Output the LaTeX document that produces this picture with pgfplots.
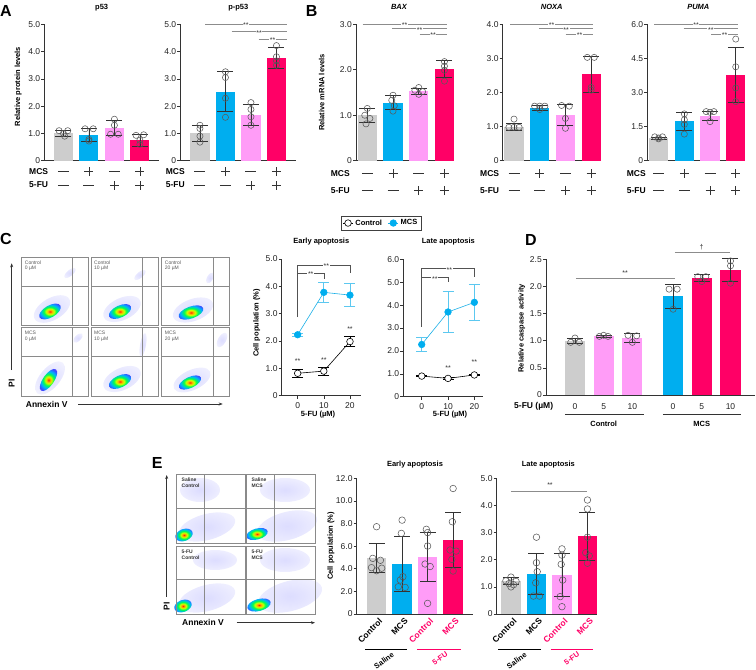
\documentclass[border=0pt]{standalone}
\usepackage{pgfplots}
\pgfplotsset{compat=1.18}
\usepackage{fontspec}
\setmainfont{Liberation Sans}
\usetikzlibrary{arrows.meta}

\definecolor{cgray}{HTML}{CDCDCD}
\definecolor{cblue}{HTML}{00AEEF}
\definecolor{cpink}{HTML}{FF9CF7}
\definecolor{cred}{HTML}{FF0066}
\definecolor{axc}{HTML}{333333}
\definecolor{tkc}{HTML}{222222}
\definecolor{ptc}{HTML}{5A5A5A}
\definecolor{brc}{HTML}{8C8C8C}
\definecolor{mcsline}{HTML}{1AAFE6}
\definecolor{mcserr}{HTML}{5CC8F0}
\definecolor{flowc}{HTML}{8A8A8A}

\newcommand{\tk}{\fontsize{8.5}{10}\selectfont}
\newcommand{\lb}{\bfseries\fontsize{7.5}{9}\selectfont}
\newcommand{\rl}{\bfseries\fontsize{8.5}{10}\selectfont}
\newcommand{\sig}{\fontsize{7}{8}\selectfont}
\newcommand{\pan}{\bfseries\fontsize{16}{18}\selectfont}
\newcommand{\fl}{\fontsize{5}{5.8}\selectfont}

\pgfdeclareradialshading{heat}{\pgfpointorigin}{color(0bp)=(red!85!yellow); color(4bp)=(orange!70!yellow); color(8bp)=(yellow!80!green); color(13bp)=(green!70!cyan); color(20bp)=(cyan!70!blue); color(28bp)=(blue!75); color(38bp)=(blue!35); color(50bp)=(white)}
\pgfdeclareradialshading{cloud}{\pgfpointorigin}{color(0bp)=(blue!30); color(25bp)=(blue!15); color(50bp)=(white)}

\newcommand{\heat}[5]{\shade[shading=heat, rotate around={#3:(#1,-#2)}] (#1,-#2) ellipse [x radius=#4, y radius=#5];}
\newcommand{\cloud}[5]{\shade[shading=cloud, opacity=0.45, rotate around={#3:(#1,-#2)}] (#1,-#2) ellipse [x radius=#4, y radius=#5];}

\pgfplotsset{
 base/.style={scale only axis, anchor=south west, clip=false,
   axis lines*=left, axis line style={axc, line width=0.7pt, -},
   ytick pos=left, xtick pos=bottom, tick align=outside, major tick length=3pt,
   tick style={axc, line width=0.6pt},
   ticklabel style={font=\tk, text=tkc},
   yticklabel style={inner sep=1pt},
   ymin=0},
 barax/.style={base, xtick=\empty, bar width=0.75},
 mybar/.style={ybar, bar shift=0pt, draw=none, fill=#1,
   error bars/.cd, y dir=both, y explicit,
   error bar style={axc, line width=0.6pt},
   error mark options={rotate=90, mark size=8pt, line width=0.6pt, axc}},
 pts/.style={only marks, mark=o, mark size=3.1pt, mark options={ptc, line width=0.55pt}},
 ctrl/.style={black, line width=0.6pt, mark=*, mark size=3.3pt, mark options={fill=white, draw=black, line width=0.6pt},
   error bars/.cd, y dir=both, y explicit,
   error bar style={black, line width=0.6pt},
   error mark options={rotate=90, mark size=5.5pt, line width=0.6pt, black}},
 mcs/.style={mcsline, line width=0.6pt, mark=*, mark size=3.3pt, mark options={fill=cblue, draw=cblue},
   error bars/.cd, y dir=both, y explicit,
   error bar style={mcserr, line width=0.8pt},
   error mark options={rotate=90, mark size=5.5pt, line width=0.8pt, mcserr}},
}

\newcommand{\sgnP}[2]{\draw[axc, line width=0.6pt] ([yshift=#2]axis cs:#1,0) ++(-4.5pt,0pt) -- ++(9pt,0pt) ([yshift=#2]axis cs:#1,0) ++(0pt,-4.5pt) -- ++(0pt,9pt);}
\newcommand{\sgnM}[2]{\draw[axc, line width=0.6pt] ([yshift=#2]axis cs:#1,0) ++(-5.5pt,0pt) -- ++(11pt,0pt);}
\newcommand{\rowsAB}[2]{\sgnM{0}{#1}\sgnP{1}{#1}\sgnM{2}{#1}\sgnP{3}{#1}\sgnM{0}{#2}\sgnM{1}{#2}\sgnP{2}{#2}\sgnP{3}{#2}}
\newcommand{\brk}[4]{\draw[brc, line width=0.6pt] (axis cs:#1,#4) -- (axis cs:#2,#4); \node[fill=white, inner sep=0.6pt, font=\sig, text=axc, yshift=-1.2pt] at (axis cs:#3,#4) {**};}
\newcommand{\stars}[2]{\node[font=\sig, text=axc] at (axis cs:#1,#2) {**};}
\newcommand{\dlab}[2]{\node[font=\tk, text=tkc] at ([yshift=-11.7pt]axis cs:#1,0) {#2};}
\newcommand{\elab}[3]{\node[font=\bfseries\fontsize{8.5}{10}\selectfont, text=#3, rotate=45, anchor=east, inner sep=1pt] at ([xshift=5pt,yshift=-5pt]axis cs:#1,0) {#2};}

\begin{document}
\begin{tikzpicture}[x=1pt,y=1pt]
\useasboundingbox (0,0) rectangle (756,-670);

% ---------------- panel letters ----------------
\node[font=\pan, anchor=north west, inner sep=0] at (0,-5) {A};
\node[font=\pan, anchor=north west, inner sep=0] at (305.7,-5) {B};
\node[font=\pan, anchor=north west, inner sep=0] at (0,-233.5) {C};
\node[font=\pan, anchor=north west, inner sep=0] at (525,-234.3) {D};
\node[font=\pan, anchor=north west, inner sep=0] at (151.7,-457) {E};

% ---------------- titles and labels A/B ----------------
\node[font=\lb] at (101.7,-7.3) {p53};
\node[font=\lb] at (238.3,-7.3) {p-p53};
\node[font=\lb\itshape] at (399,-7.3) {BAX};
\node[font=\lb\itshape] at (551.7,-7.3) {NOXA};
\node[font=\lb\itshape] at (698.3,-7.3) {PUMA};
\node[font=\lb, rotate=90] at (18.3,-86.7) {Relative protein levels};
\node[font=\lb, rotate=90] at (321.7,-92.5) {Relative mRNA levels};
\foreach \xr in {48.3,185} {
  \node[font=\rl, anchor=east, inner sep=0] at (\xr,-171.7) {MCS};
  \node[font=\rl, anchor=east, inner sep=0] at (\xr,-185) {5-FU};
}
\foreach \xr in {350,499.3,646} {
  \node[font=\rl, anchor=east, inner sep=0] at (\xr,-173.3) {MCS};
  \node[font=\rl, anchor=east, inner sep=0] at (\xr,-190.7) {5-FU};
}

% ---------------- A: p53 ----------------
\begin{axis}[barax, at={(44.3pt,-160.7pt)}, width=114.7pt, height=136.4pt, xmin=-0.75, xmax=3.75, ymax=5,
  ytick={0,1,2,3,4,5}, yticklabels={0,1.0,2.0,3.0,4.0,5.0}]
\addplot[mybar=cgray] coordinates {(0,1.0) +- (0,0.12)};
\addplot[mybar=cblue] coordinates {(1,0.95) +- (0,0.23)};
\addplot[mybar=cpink] coordinates {(2,1.2) +- (0,0.27)};
\addplot[mybar=cred] coordinates {(3,0.75) +- (0,0.22)};
\addplot[pts] coordinates {(-0.17,1.1) (0.17,1.1) (0,1.0) (0.05,0.9) (0.85,1.17) (1.17,1.17) (1,0.78) (1,0.72) (2,1.52) (2,1.3) (1.85,0.97) (2.15,0.97) (2.85,0.93) (3.15,0.95) (3,0.75) (3,0.6)};
\rowsAB{-11pt}{-24.3pt}
\end{axis}

% ---------------- A: p-p53 ----------------
\begin{axis}[barax, at={(180.3pt,-160.7pt)}, width=115.8pt, height=136.4pt, xmin=-0.77, xmax=3.77, ymax=5,
  ytick={0,1,2,3,4,5}, yticklabels={0,1.0,2.0,3.0,4.0,5.0}]
\addplot[mybar=cgray] coordinates {(0,1.0) +- (0,0.3)};
\addplot[mybar=cblue] coordinates {(1,2.53) +- (0,0.73)};
\addplot[mybar=cpink] coordinates {(2,1.67) +- (0,0.39)};
\addplot[mybar=cred] coordinates {(3,3.77) +- (0,0.37)};
\addplot[pts] coordinates {(0,1.3) (0,1.18) (0,0.9) (0,0.68) (1,3.26) (1,3.05) (1,2.29) (1,1.59) (2,2.13) (2,1.88) (2,1.61) (2,1.3) (3,4.22) (3,3.81) (3,3.66) (3,3.5)};
\brk{0.2}{3.4}{1.8}{5.0}
\brk{1.24}{3.4}{2.32}{4.73}
\brk{2.3}{3.4}{2.85}{4.46}
\rowsAB{-11pt}{-24.3pt}
\end{axis}

% ---------------- B: BAX ----------------
\begin{axis}[barax, at={(356pt,-160.7pt)}, width=97.7pt, height=136.4pt, xmin=-0.44, xmax=3.36, ymax=3,
  ytick={0,1,2,3}, yticklabels={0,1.0,2.0,3.0}]
\addplot[mybar=cgray] coordinates {(0,1.0) +- (0,0.155)};
\addplot[mybar=cblue] coordinates {(1,1.28) +- (0,0.15)};
\addplot[mybar=cpink] coordinates {(2,1.53) +- (0,0.06)};
\addplot[mybar=cred] coordinates {(3,2.02) +- (0,0.19)};
\addplot[pts] coordinates {(0,1.15) (-0.1,1.0) (0.1,0.93) (-0.05,0.81) (1,1.44) (0.95,1.33) (1.05,1.21) (1,1.09) (2,1.61) (1.85,1.55) (2.15,1.52) (2,1.46) (3,2.18) (3,2.08) (3,1.99) (3,1.75)};
\brk{-0.18}{3.09}{1.45}{3.0}
\brk{0.97}{3.09}{2.03}{2.91}
\brk{2.03}{3.09}{2.56}{2.79}
\rowsAB{-12.6pt}{-30pt}
\end{axis}

% ---------------- B: NOXA ----------------
\begin{axis}[barax, at={(502.7pt,-160.7pt)}, width=97.7pt, height=136.4pt, xmin=-0.44, xmax=3.36, ymax=4,
  ytick={0,1,2,3,4}, yticklabels={0,1.0,2.0,3.0,4.0}]
\addplot[mybar=cgray] coordinates {(0,1.0) +- (0,0.11)};
\addplot[mybar=cblue] coordinates {(1,1.55) +- (0,0.08)};
\addplot[mybar=cpink] coordinates {(2,1.35) +- (0,0.31)};
\addplot[mybar=cred] coordinates {(3,2.53) +- (0,0.52)};
\addplot[pts] coordinates {(0,1.22) (-0.2,0.98) (0,0.98) (0.2,0.98) (0.8,1.6) (1,1.6) (1.2,1.6) (1,1.5) (1.85,1.62) (2.15,1.6) (2,1.24) (2,0.95) (2.85,3.03) (3.12,3.03) (3,2.15) (3,2.07)};
\brk{-0.16}{3.09}{1.46}{4.0}
\brk{0.97}{3.09}{2.03}{3.88}
\brk{2.01}{3.09}{2.55}{3.72}
\rowsAB{-12.6pt}{-30pt}
\end{axis}

% ---------------- B: PUMA ----------------
\begin{axis}[barax, at={(647.3pt,-160.7pt)}, width=97.7pt, height=136.4pt, xmin=-0.44, xmax=3.36, ymax=6,
  ytick={0,1.5,3,4.5,6}, yticklabels={0,1.5,3.0,4.5,6.0}]
\addplot[mybar=cgray] coordinates {(0,1.0) +- (0,0.05)};
\addplot[mybar=cblue] coordinates {(1,1.73) +- (0,0.4)};
\addplot[mybar=cpink] coordinates {(2,1.98) +- (0,0.21)};
\addplot[mybar=cred] coordinates {(3,3.76) +- (0,1.21)};
\addplot[pts] coordinates {(-0.15,1.05) (0.15,1.05) (0,1.0) (0,0.96) (1,2.06) (1,1.8) (1,1.6) (1,1.17) (1.85,2.16) (2.15,2.16) (2,2.13) (2,1.72) (3,5.35) (3,4.13) (3,3.2) (3,2.6)};
\brk{-0.17}{3.09}{1.46}{6.0}
\brk{0.97}{3.09}{2.03}{5.82}
\brk{2.05}{3.09}{2.57}{5.57}
\rowsAB{-12.6pt}{-30pt}
\end{axis}

% ---------------- C: flow plots ----------------
\cloud{70}{273}{40}{7}{3}
\cloud{140}{275}{40}{7}{3}
\cloud{210}{278}{60}{6}{3}
\cloud{78}{338}{45}{6}{3}
\cloud{143}{345}{80}{12}{3}
\cloud{222}{340}{60}{8}{4}
\cloud{52}{309}{30}{20}{11}
\cloud{122}{309}{25}{20}{11}
\cloud{193}{310}{20}{21}{11}
\cloud{50}{378}{50}{20}{10}
\cloud{122}{379}{25}{20}{11}
\cloud{192}{380}{25}{20}{10}
\heat{50}{311.5}{30}{12}{6}
\heat{120}{311.5}{25}{12}{6}
\heat{191}{312.5}{20}{13}{6}
\heat{48.5}{380}{55}{13}{5.5}
\heat{120}{381.5}{25}{12}{6}
\heat{190}{382.5}{25}{12}{5.5}
\foreach \xa/\xb/\xv in {21.7/88.3/72.7, 91/158.3/142.7, 161.7/229.3/213.3} {
  \draw[flowc, line width=0.5pt] (\xa,-257.3) rectangle (\xb,-325);
  \draw[flowc, line width=0.5pt] (\xa,-327.7) rectangle (\xb,-396);
  \draw[flowc, line width=0.5pt] (\xv,-257.3) -- (\xv,-325) (\xa,-286.7) -- (\xb,-286.7);
  \draw[flowc, line width=0.5pt] (\xv,-327.7) -- (\xv,-396) (\xa,-356.7) -- (\xb,-356.7);
}
\node[font=\fl, text=black!65, anchor=north west, align=left, inner sep=0] at (24.7,-260.3) {Control\\0 µM};
\node[font=\fl, text=black!65, anchor=north west, align=left, inner sep=0] at (94,-260.3) {Control\\10 µM};
\node[font=\fl, text=black!65, anchor=north west, align=left, inner sep=0] at (164.7,-260.3) {Control\\20 µM};
\node[font=\fl, text=black!65, anchor=north west, align=left, inner sep=0] at (24.7,-330.7) {MCS\\0 µM};
\node[font=\fl, text=black!65, anchor=north west, align=left, inner sep=0] at (94,-330.7) {MCS\\10 µM};
\node[font=\fl, text=black!65, anchor=north west, align=left, inner sep=0] at (164.7,-330.7) {MCS\\20 µM};
\draw[axc, line width=0.6pt, -{Stealth[length=4pt,width=3pt]}] (11.7,-370) -- (11.7,-263.3);
\node[font=\rl, rotate=90] at (11.7,-383.3) {PI};
\node[font=\rl] at (46.7,-404.3) {Annexin V};
\draw[axc, line width=0.6pt, -{Stealth[length=4pt,width=3pt]}] (78,-404) -- (222.7,-404);

% ---------------- C: line charts ----------------
\node[font=\lb] at (321.3,-241.5) {Early apoptosis};
\node[font=\lb] at (448.3,-241.5) {Late apoptosis};
\node[font=\lb, rotate=90] at (256.7,-323) {Cell population (\%)};
\node[font=\lb] at (318,-414.5) {5-FU (µM)};
\node[font=\lb] at (450,-414.5) {5-FU (µM)};

\begin{axis}[base, at={(281.7pt,-395.7pt)}, width=79pt, height=136.7pt, xmin=-6.1, xmax=24.1, ymax=5,
  ytick={0,1,2,3,4,5}, yticklabels={0,1.0,2.0,3.0,4.0,5.0}, xtick={0,10,20}, xticklabels={0,10,20},
  legend style={at={(1.257,1.263)}, anchor=center, legend columns=2, draw=black!75, font=\lb,
    inner sep=1.5pt, /tikz/every even column/.append style={column sep=4pt}},
  legend image code/.code={\draw[mark repeat=2, mark phase=2, #1] plot coordinates {(0pt,0pt) (5pt,0pt) (10pt,0pt)};}]
\addplot[ctrl] coordinates {(0,0.82) +- (0,0.13) (10,0.9) +- (0,0.15) (20,1.98) +- (0,0.18)};
\addlegendentry{Control}
\addplot[mcs] coordinates {(0,2.23) +- (0,0.06) (10,3.78) +- (0,0.35) (20,3.68) +- (0,0.42)};
\addlegendentry{MCS}
\draw[axc!85, line width=0.6pt] (axis cs:0,2.87) -- (axis cs:0,4.78) -- (axis cs:20,4.78) -- (axis cs:20,4.48);
\draw[axc!85, line width=0.6pt] (axis cs:0,4.48) -- (axis cs:10,4.48) -- (axis cs:10,4.26);
\node[fill=white, inner sep=0.8pt, font=\sig, text=axc, yshift=-1.2pt] at (axis cs:11,4.78) {**};
\node[fill=white, inner sep=0.8pt, font=\sig, text=axc, yshift=-1.2pt] at (axis cs:5,4.48) {**};
\stars{0}{1.25}
\stars{10}{1.3}
\stars{20}{2.42}
\end{axis}

\begin{axis}[base, at={(403.3pt,-396.7pt)}, width=80pt, height=137.4pt, xmin=-7, xmax=23.4, ymax=6,
  ytick={0,1,2,3,4,5,6}, yticklabels={0,1.0,2.0,3.0,4.0,5.0,6.0}, xtick={0,10,20}, xticklabels={0,10,20}]
\addplot[ctrl] coordinates {(0,0.9) +- (0,0.03) (10,0.8) +- (0,0.03) (20,0.95) +- (0,0.03)};
\addplot[mcs] coordinates {(0,2.28) +- (0,0.32) (10,3.7) +- (0,0.89) (20,4.12) +- (0,0.77)};
\draw[axc!85, line width=0.6pt] (axis cs:0,3.06) -- (axis cs:0,5.6) -- (axis cs:20,5.6) -- (axis cs:20,5.24);
\draw[axc!85, line width=0.6pt] (axis cs:0,5.2) -- (axis cs:10,5.2) -- (axis cs:10,5.0);
\node[fill=white, inner sep=0.8pt, font=\sig, text=axc, yshift=-1.2pt] at (axis cs:10.5,5.6) {**};
\node[fill=white, inner sep=0.8pt, font=\sig, text=axc, yshift=-1.2pt] at (axis cs:5,5.2) {**};
\stars{10}{1.25}
\stars{20}{1.52}
\end{axis}

% ---------------- D ----------------
\node[font=\lb, rotate=90] at (521.7,-328.3) {Relative caspase activity};
\node[font=\rl, anchor=east, inner sep=0] at (553.3,-406.7) {5-FU (µM)};
\begin{axis}[barax, bar width=0.7, at={(546pt,-395pt)}, width=208.6pt, height=135.7pt, xmin=-1.01, xmax=6.26, ymax=2.5,
  ytick={0,0.5,1,1.5,2,2.5}, yticklabels={0,0.5,1.0,1.5,2.0,2.5}]
\addplot[mybar=cgray] coordinates {(0,1.0) +- (0,0.05)};
\addplot[mybar=cpink] coordinates {(1,1.08) +- (0,0.02)};
\addplot[mybar=cpink] coordinates {(2,1.05) +- (0,0.08)};
\addplot[mybar=cblue] coordinates {(3.42,1.82) +- (0,0.215)};
\addplot[mybar=cred] coordinates {(4.42,2.16) +- (0,0.06)};
\addplot[mybar=cred] coordinates {(5.42,2.3) +- (0,0.21)};
\addplot[pts] coordinates {(-0.15,0.97) (0.15,0.97) (0,1.05) (0.85,1.08) (1.15,1.08) (1,1.1) (1.85,1.1) (2.15,1.09) (2,0.97) (3.28,1.95) (3.56,1.95) (3.42,1.58) (4.28,2.18) (4.56,2.18) (4.42,2.09) (5.42,2.47) (5.42,2.38) (5.42,2.06)};
\dlab{0}{0}\dlab{1}{5}\dlab{2}{10}\dlab{3.42}{0}\dlab{4.42}{5}\dlab{5.42}{10}
\draw[axc, line width=0.6pt] ([yshift=-19.3pt]axis cs:-0.35,0) -- ([yshift=-19.3pt]axis cs:2.4,0);
\draw[axc, line width=0.6pt] ([yshift=-19.3pt]axis cs:3.06,0) -- ([yshift=-19.3pt]axis cs:5.78,0);
\node[font=\lb] at ([yshift=-29.3pt]axis cs:1,0) {Control};
\node[font=\lb] at ([yshift=-29.3pt]axis cs:4.42,0) {MCS};
\draw[brc, line width=0.6pt] (axis cs:0.03,2.15) -- (axis cs:3.48,2.15);
\node[font=\sig, text=axc] at (axis cs:1.75,2.25) {**};
\draw[brc, line width=0.6pt] (axis cs:3.48,2.63) -- (axis cs:5.4,2.63);
\node[font=\sig, text=axc] at (axis cs:4.41,2.73) {†};
\end{axis}

% ---------------- E: flow plots ----------------
\cloud{207}{527}{15}{29}{13}
\cloud{287}{526}{15}{31}{14}
\cloud{207}{598}{15}{29}{13}
\cloud{290}{596}{15}{33}{15}
\cloud{200}{490}{0}{20}{12}
\cloud{285}{490}{0}{25}{12}
\cloud{215}{560}{0}{22}{10}
\cloud{285}{560}{0}{25}{12}
\heat{184}{535}{20}{9}{6}
\heat{257}{534}{15}{11}{5.5}
\heat{183}{606}{20}{9}{6}
\heat{259}{605}{15}{12}{6}
\foreach \xa/\xb/\xv in {176.7/245/204, 246.7/315.7/274} {
  \draw[flowc, line width=0.5pt] (\xa,-474.3) rectangle (\xb,-543.3);
  \draw[flowc, line width=0.5pt] (\xa,-546) rectangle (\xb,-614.3);
  \draw[flowc, line width=0.5pt] (\xv,-474.3) -- (\xv,-543.3) (\xa,-508.3) -- (\xb,-508.3);
  \draw[flowc, line width=0.5pt] (\xv,-546) -- (\xv,-614.3) (\xa,-579.3) -- (\xb,-579.3);
}
\node[font=\bfseries\fl, text=black!80, anchor=north west, align=left, inner sep=0] at (181.5,-478) {Saline\\Control};
\node[font=\bfseries\fl, text=black!80, anchor=north west, align=left, inner sep=0] at (251.5,-478) {Saline\\MCS};
\node[font=\bfseries\fl, text=black!80, anchor=north west, align=left, inner sep=0] at (181.5,-549.7) {5-FU\\Control};
\node[font=\bfseries\fl, text=black!80, anchor=north west, align=left, inner sep=0] at (251.5,-549.7) {5-FU\\MCS};
\draw[axc, line width=0.6pt, -{Stealth[length=4pt,width=3pt]}] (166.7,-596.7) -- (166.7,-475);
\node[font=\rl, rotate=90] at (166.7,-606) {PI};
\node[font=\rl] at (203,-622.7) {Annexin V};
\draw[axc, line width=0.6pt, -{Stealth[length=4pt,width=3pt]}] (236.7,-622.7) -- (315,-622.7);

% ---------------- E: bar charts ----------------
\node[font=\lb] at (415,-465) {Early apoptosis};
\node[font=\lb] at (548.3,-465) {Late apoptosis};
\node[font=\lb, rotate=90] at (331,-545.8) {Cell population (\%)};

\begin{axis}[barax, bar width=0.76, at={(356.7pt,-614pt)}, width=115.8pt, height=135.7pt, xmin=-0.78, xmax=3.76, ymax=12,
  ytick={0,2,4,6,8,10,12}, yticklabels={0,2.0,4.0,6.0,8.0,10.0,12.0}]
\addplot[mybar=cgray] coordinates {(0,4.95) +- (0,1.3)};
\addplot[mybar=cblue] coordinates {(1,4.4) +- (0,2.43)};
\addplot[mybar=cpink] coordinates {(2,5.04) +- (0,2.18)};
\addplot[mybar=cred] coordinates {(3,6.53) +- (0,2.43)};
\addplot[pts, mark size=3.3pt] coordinates {(0,7.72) (-0.15,4.92) (0.15,4.75) (-0.2,4.1) (0.2,4.05) (0,3.83)
 (1,8.3) (0.97,7.13) (1.03,3.3) (0.93,3.0) (0.85,2.41) (1.12,2.35)
 (1.95,7.49) (2.0,7.2) (2.0,6.01) (1.9,4.42) (2.1,4.2) (2.0,0.94)
 (3,11.1) (2.97,8.16) (2.88,5.66) (3.12,5.56) (2.95,4.83) (3,3.8)};
\elab{0}{Control}{black}\elab{1}{MCS}{black}\elab{2}{Control}{cred}\elab{3}{MCS}{cred}
\end{axis}

\begin{axis}[barax, bar width=0.76, at={(496.7pt,-614pt)}, width=100.7pt, height=135.7pt, xmin=-0.56, xmax=3.39, ymax=5,
  ytick={0,1,2,3,4,5}, yticklabels={0,1.0,2.0,3.0,4.0,5.0}]
\addplot[mybar=cgray] coordinates {(0,1.22) +- (0,0.13)};
\addplot[mybar=cblue] coordinates {(1,1.48) +- (0,0.75)};
\addplot[mybar=cpink] coordinates {(2,1.45) +- (0,0.79)};
\addplot[mybar=cred] coordinates {(3,2.87) +- (0,0.88)};
\addplot[pts, mark size=3.3pt] coordinates {(0,1.36) (-0.2,1.22) (0.2,1.2) (-0.08,1.12) (0.1,1.08) (0,1.0)
 (1,2.83) (1,1.89) (1.03,1.56) (0.97,1.15) (0.88,0.66) (1.12,0.66)
 (2,2.4) (2,2.17) (1.97,1.83) (2.03,1.25) (1.93,0.64) (2,0.27)
 (3,4.2) (3,3.87) (3,2.83) (2.93,2.26) (3.07,2.14) (3,1.87)};
\draw[brc, line width=0.6pt] (axis cs:0,4.53) -- (axis cs:3,4.53);
\node[font=\sig, text=axc] at (axis cs:1.53,4.75) {**};
\elab{0}{Control}{black}\elab{1}{MCS}{black}\elab{2}{Control}{cred}\elab{3}{MCS}{cred}
\end{axis}

\draw[black, line width=0.7pt] (365,-649.3) -- (407.3,-649.3);
\draw[cred, line width=0.7pt] (417.3,-649.3) -- (460.7,-649.3);
\draw[black, line width=0.7pt] (498.3,-649.3) -- (541,-649.3);
\draw[cred, line width=0.7pt] (550.7,-649.3) -- (593.3,-649.3);
\node[font=\lb, rotate=35] at (384,-660.5) {Saline};
\node[font=\lb, rotate=35, text=cred] at (440,-658.5) {5-FU};
\node[font=\lb, rotate=35] at (516.7,-660.5) {Saline};
\node[font=\lb, rotate=35, text=cred] at (571.7,-658.5) {5-FU};

\end{tikzpicture}
\end{document}
